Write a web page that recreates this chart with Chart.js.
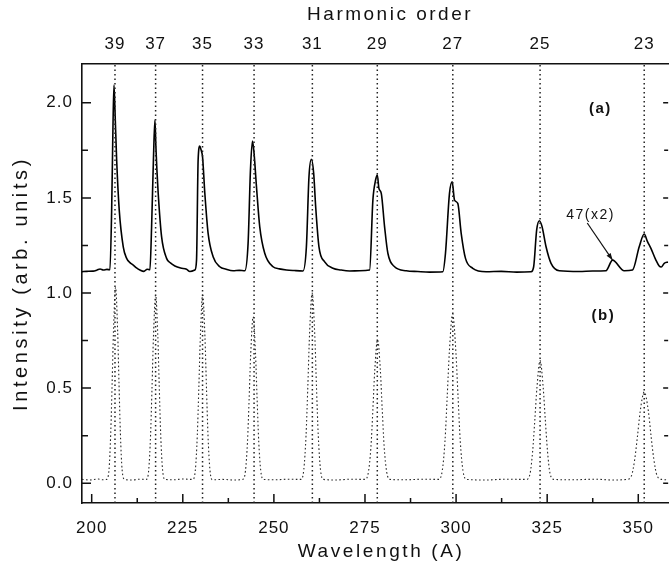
<!DOCTYPE html>
<html>
<head>
<meta charset="utf-8">
<title>Harmonic spectrum</title>
<script src="https://cdn.jsdelivr.net/npm/chart.js@4.4.1/dist/chart.umd.min.js"></script>
<style>
  html, body { margin: 0; padding: 0; background: #fff; overflow: hidden; }
  canvas { display: block; }
</style>
</head>
<body>
<canvas id="spectrum" width="669" height="569"></canvas>
<script>
// Harmonic orders and the wavelengths (Å) they sit at
const harmonicOrders = [39, 37, 35, 33, 31, 29, 27, 25, 23];
const harmonicWavelengths = [206.39, 217.54, 230.42, 244.56, 260.56, 278.38, 299.10, 323.05, 351.63];

// Axis ticks
const wavelengthTicks = [200, 225, 250, 275, 300, 325, 350];
const wavelengthMinorTicks = [212.5, 237.5, 262.5, 287.5, 312.5, 337.5];
const intensityTicks = [0, 0.5, 1.0, 1.5, 2.0];
const intensityMinorTicks = [0.25, 0.75, 1.25, 1.75];

// Spectrum (a): [wavelength, intensity]
const traceA = [
  [197.34,1.112],[198.6,1.114],[200.4,1.115],[201.5,1.121],[202.3,1.126],[203.2,1.121],[204.2,1.124],[205.0,1.122],
  [205.48,1.436],[205.84,1.874],[206.11,2.093],[206.39,1.961],[206.85,1.699],[207.56,1.436],[208.66,1.243],[209.59,1.182],
  [210.5,1.160],[211.40,1.147],[212.3,1.132],[213.24,1.121],[214.33,1.114],[215.24,1.125],[215.98,1.122],
  [216.44,1.348],[216.94,1.699],[217.35,1.909],[217.62,1.769],[217.9,1.646],[218.25,1.524],[219.18,1.296],[220.55,1.182],
  [221.6,1.158],[222.83,1.142],[224.4,1.131],[226.03,1.125],[226.94,1.113],[228.31,1.121],
  [228.77,1.173],[229.21,1.699],[229.68,1.772],[230.04,1.751],[230.42,1.716],[231.05,1.524],[231.95,1.314],[233.32,1.191],
  [235.16,1.138],[236.9,1.125],[238.81,1.117],[240.5,1.119],[242.01,1.117],
  [242.92,1.261],[243.57,1.646],[244.12,1.799],[244.56,1.734],[245.22,1.559],[246.12,1.348],[247.49,1.209],[249.77,1.138],
  [251.5,1.127],[253.44,1.121],[255.6,1.118],[257.99,1.116],
  [258.92,1.243],[259.63,1.611],[260.29,1.703],[260.92,1.629],[261.47,1.453],[262.37,1.243],[263.94,1.164],[266.21,1.130],
  [268.4,1.121],[270.79,1.116],[273.53,1.117],[276.27,1.121],
  [277.17,1.489],[277.91,1.594],[278.38,1.620],[278.82,1.550],[279.47,1.524],[280.38,1.348],[281.28,1.209],[283.12,1.138],
  [286.33,1.117],[289.5,1.113],[292.71,1.110],[296.36,1.112],
  [297.09,1.209],[298.19,1.524],[298.93,1.585],[299.56,1.489],[300.47,1.471],[301.40,1.314],[302.58,1.182],[304.58,1.130],
  [308.25,1.112],[312.4,1.114],[316.6,1.110],[320.58,1.112],
  [321.29,1.138],[322.11,1.331],[322.86,1.380],[323.60,1.348],[324.69,1.243],[326.06,1.156],[328.34,1.117],[333.82,1.113],
  [337.5,1.116],[341.13,1.117],
  [342.94,1.173],[346.14,1.117],[348.42,1.121],
  [350.26,1.243],[351.63,1.310],[352.53,1.270],[353.47,1.235],[354.84,1.173],[355.74,1.142],[356.29,1.137],[357.12,1.156],[358.21,1.163]
];

// Spectrum (b): [wavelength, intensity]
const traceB = [
  [197.34,0.020],[199.5,0.017],[201.8,0.022],[203.0,0.018],
  [204.05,0.02],[204.75,0.07],[205.22,0.26],[205.6,0.52],[205.98,0.80],[206.55,1.03],[207.12,0.80],[207.5,0.52],[207.88,0.26],[208.35,0.07],[209.05,0.02],
  [211.0,0.017],[213.2,0.021],
  [214.95,0.02],[215.65,0.07],[216.15,0.25],[216.55,0.50],[216.95,0.77],[217.55,0.99],[218.15,0.77],[218.55,0.50],[218.95,0.25],[219.45,0.07],[220.15,0.02],
  [222.5,0.018],[225.0,0.022],
  [227.75,0.02],[228.45,0.07],[228.98,0.25],[229.4,0.50],[229.82,0.77],[230.45,0.99],[231.08,0.77],[231.5,0.50],[231.92,0.25],[232.45,0.07],[233.15,0.018],
  [236.0,0.020],[239.0,0.017],
  [241.45,0.02],[242.2,0.065],[242.76,0.22],[243.2,0.44],[243.64,0.68],[244.3,0.875],[244.96,0.68],[245.4,0.44],[245.84,0.22],[246.4,0.065],[247.15,0.02],
  [250.5,0.018],[254.0,0.021],
  [257.4,0.02],[258.2,0.07],[258.82,0.25],[259.3,0.50],[259.78,0.78],[260.5,1.00],[261.22,0.78],[261.7,0.50],[262.18,0.25],[262.8,0.07],[263.6,0.02],
  [267.0,0.017],[271.0,0.021],
  [275.05,0.02],[275.95,0.06],[276.63,0.19],[277.15,0.38],[277.67,0.59],[278.45,0.755],[279.23,0.59],[279.75,0.38],[280.27,0.19],[280.95,0.06],[281.85,0.02],
  [286.0,0.018],[291.0,0.021],
  [295.15,0.02],[296.2,0.065],[296.95,0.22],[297.55,0.45],[298.15,0.69],[299.05,0.89],[299.95,0.69],[300.55,0.45],[301.15,0.22],[301.9,0.065],[302.95,0.02],
  [308.0,0.017],[313.5,0.021],
  [319.25,0.02],[320.3,0.05],[321.02,0.17],[321.6,0.33],[322.18,0.50],[323.05,0.645],[323.92,0.50],[324.5,0.33],[325.08,0.17],[325.8,0.05],[326.85,0.02],
  [332.0,0.018],[338.0,0.021],[343.0,0.017],
  [346.85,0.02],[348.15,0.04],[349.06,0.13],[349.8,0.25],[350.54,0.38],[351.65,0.48],[352.76,0.38],[353.5,0.25],[354.24,0.13],[355.15,0.04],[356.45,0.02],
  [358.2,0.018]
];

const FONT = "'Liberation Sans', Arial, Helvetica, sans-serif";
const INK = '#111';

const X_MIN = 197.34, X_MAX = 358.2;
const Y_MIN = -0.104, Y_MAX = 2.204;

// Panel labels and the second-order note, placed in data units
const panelLabels = [
  { text: '(a)', x: 339.6, y: 1.97 },
  { text: '(b)', x: 340.4, y: 0.88 }
];
const secondOrderNote = { text: '47(x2)', x: 336.9, y: 1.41, fromX: 336.0, fromY: 1.368, toX: 342.94, toY: 1.173 };

// Extra tracking and horizontal nudge for the axis titles
const titleSpacing = { x: '2.6px', xTop: '2.5px', y: '3.6px' };
const titleShift = { x: 6, xTop: 15, y: 0 };

const toPoints = rows => rows.map(([x, y]) => ({ x, y }));

const harmonicLines = harmonicWavelengths.map(w => ({
  data: [{ x: w, y: Y_MIN }, { x: w, y: Y_MAX }],
  showLine: true,
  borderColor: '#222',
  borderWidth: 1.5,
  borderDash: [1.5, 3],
  pointRadius: 0,
  fill: false
}));

const letterSpacingPlugin = {
  id: 'letterSpacing',
  beforeUpdate(chart) { chart.ctx.letterSpacing = '1px'; },
  beforeDraw(chart) {
    chart.ctx.letterSpacing = '1px';
    Object.values(chart.scales).forEach(scale => {
      if (scale._spacedTitle) return;
      const base = scale.drawTitle;
      scale.drawTitle = function () {
        const c = this.ctx;
        c.save();
        c.letterSpacing = titleSpacing[this.id] || '1px';
        c.translate(titleShift[this.id] || 0, 0);
        base.call(this);
        c.restore();
      };
      scale._spacedTitle = true;
    });
  }
};

// Inward tick marks on the frame
const frameTicksPlugin = {
  id: 'frameTicks',
  afterDraw(chart) {
    const { ctx, chartArea: a, scales: { x, y } } = chart;
    ctx.save();
    ctx.strokeStyle = INK;
    ctx.lineWidth = 1.5;
    ctx.beginPath();
    wavelengthTicks.forEach(v => {
      const p = x.getPixelForValue(v);
      ctx.moveTo(p, a.bottom); ctx.lineTo(p, a.bottom - 9);
    });
    wavelengthMinorTicks.forEach(v => {
      const p = x.getPixelForValue(v);
      ctx.moveTo(p, a.bottom); ctx.lineTo(p, a.bottom - 5);
    });
    intensityTicks.forEach(v => {
      const p = y.getPixelForValue(v);
      ctx.moveTo(a.left, p); ctx.lineTo(a.left + 9, p);
      ctx.moveTo(a.right, p); ctx.lineTo(a.right - 5, p);
    });
    intensityMinorTicks.forEach(v => {
      const p = y.getPixelForValue(v);
      ctx.moveTo(a.left, p); ctx.lineTo(a.left + 6, p);
      ctx.moveTo(a.right, p); ctx.lineTo(a.right - 4, p);
    });
    ctx.stroke();
    ctx.restore();
  }
};

// Panel labels and the arrowed note
const notesPlugin = {
  id: 'notes',
  afterDatasetsDraw(chart) {
    const { ctx, scales: { x, y } } = chart;
    ctx.save();
    ctx.fillStyle = INK;
    ctx.strokeStyle = INK;
    ctx.textAlign = 'center';
    ctx.textBaseline = 'middle';
    ctx.letterSpacing = '1.5px';
    ctx.font = `bold 15px ${FONT}`;
    panelLabels.forEach(l => ctx.fillText(l.text, x.getPixelForValue(l.x), y.getPixelForValue(l.y)));

    const n = secondOrderNote;
    ctx.font = `14px ${FONT}`;
    ctx.fillText(n.text, x.getPixelForValue(n.x), y.getPixelForValue(n.y));

    const x0 = x.getPixelForValue(n.fromX), y0 = y.getPixelForValue(n.fromY);
    const x1 = x.getPixelForValue(n.toX), y1 = y.getPixelForValue(n.toY);
    ctx.lineWidth = 1.2;
    ctx.beginPath();
    ctx.moveTo(x0, y0);
    ctx.lineTo(x1, y1);
    ctx.stroke();
    const ang = Math.atan2(y1 - y0, x1 - x0);
    const len = 7, half = 2.5;
    const bx = x1 - len * Math.cos(ang), by = y1 - len * Math.sin(ang);
    ctx.beginPath();
    ctx.moveTo(x1, y1);
    ctx.lineTo(bx + half * Math.sin(ang), by - half * Math.cos(ang));
    ctx.lineTo(bx - half * Math.sin(ang), by + half * Math.cos(ang));
    ctx.closePath();
    ctx.fill();
    ctx.restore();
  }
};

const tickFont = { family: FONT, size: 17 };
const titleFont = { family: FONT, size: 19 };

new Chart(document.getElementById('spectrum'), {
  type: 'scatter',
  data: {
    datasets: [
      ...harmonicLines,
      {
        label: '(b)',
        data: toPoints(traceB),
        showLine: true,
        borderColor: '#2a2a2a',
        borderWidth: 1.1,
        borderDash: [1.6, 2.4],
        cubicInterpolationMode: 'monotone',
        pointRadius: 0,
        fill: false
      },
      {
        label: '(a)',
        data: toPoints(traceA),
        showLine: true,
        borderColor: '#000',
        borderWidth: 1.6,
        cubicInterpolationMode: 'monotone',
        pointRadius: 0,
        fill: false
      }
    ]
  },
  options: {
    responsive: false,
    animation: false,
    events: [],
    layout: { padding: 0 },
    plugins: {
      legend: { display: false },
      tooltip: { enabled: false }
    },
    scales: {
      x: {
        type: 'linear',
        position: 'bottom',
        min: X_MIN,
        max: X_MAX,
        afterBuildTicks: s => { s.ticks = wavelengthTicks.map(v => ({ value: v })); },
        afterFit: s => { s.height = 66; },
        grid: { display: false, drawTicks: false },
        border: { display: true, color: INK, width: 1.6 },
        ticks: { font: tickFont, color: INK, padding: 15, maxRotation: 0, autoSkip: false, callback: v => String(v) },
        title: { display: true, text: 'Wavelength (A)', font: titleFont, color: INK, padding: { top: 0, bottom: 6 } }
      },
      xTop: {
        type: 'linear',
        position: 'top',
        min: X_MIN,
        max: X_MAX,
        afterBuildTicks: s => { s.ticks = harmonicWavelengths.map(v => ({ value: v })); },
        afterFit: s => { s.height = 64; },
        grid: { display: false, drawTicks: false },
        border: { display: true, color: INK, width: 1.6 },
        ticks: { font: tickFont, color: INK, padding: 9, maxRotation: 0, autoSkip: false, callback: (v, i) => String(harmonicOrders[i]) },
        title: { display: true, text: 'Harmonic order', font: titleFont, color: INK, padding: { top: 3, bottom: 0 } }
      },
      y: {
        type: 'linear',
        position: 'left',
        min: Y_MIN,
        max: Y_MAX,
        afterBuildTicks: s => { s.ticks = intensityTicks.map(v => ({ value: v })); },
        afterFit: s => { s.width = 82; },
        grid: { display: false, drawTicks: false },
        border: { display: true, color: INK, width: 1.6 },
        ticks: { font: tickFont, color: INK, padding: 9, callback: v => v.toFixed(1) },
        title: { display: true, text: 'Intensity (arb. units)', font: { family: FONT, size: 20 }, color: INK, padding: { top: 9, bottom: 0 } }
      }
    }
  },
  plugins: [letterSpacingPlugin, frameTicksPlugin, notesPlugin]
});
</script>
</body>
</html>
